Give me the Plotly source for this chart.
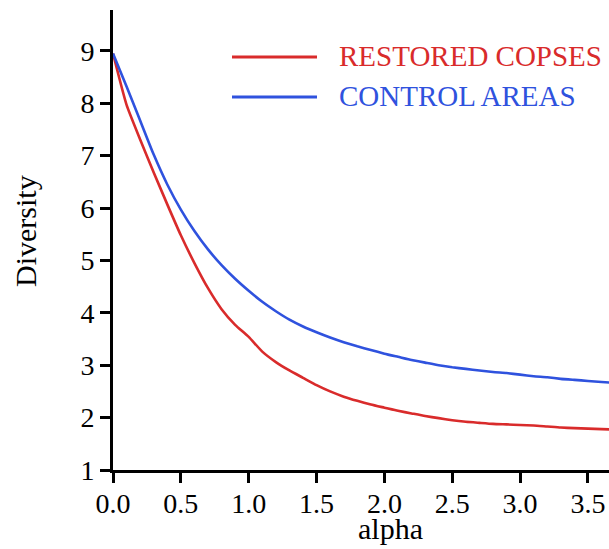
import plotly.graph_objects as go

alpha = [0.0, 0.1, 0.2, 0.3, 0.4, 0.5, 0.6, 0.7, 0.8, 0.9,
         1.0, 1.1, 1.2, 1.3, 1.4, 1.5, 1.6, 1.7, 1.8, 1.9,
         2.0, 2.1, 2.2, 2.3, 2.4, 2.5, 2.6, 2.7, 2.8, 2.9,
         3.0, 3.1, 3.2, 3.3, 3.4, 3.5, 3.6, 3.7]

restored_copses = [8.95, 7.97, 7.31, 6.68, 6.07, 5.48, 4.95, 4.47, 4.07, 3.77,
                   3.54, 3.26, 3.06, 2.90, 2.76, 2.62, 2.50, 2.40, 2.32, 2.25,
                   2.19, 2.13, 2.08, 2.03, 1.99, 1.95, 1.92, 1.90, 1.88, 1.87,
                   1.86, 1.85, 1.83, 1.81, 1.80, 1.79, 1.78, 1.77]

control_areas = [8.95, 8.32, 7.67, 7.02, 6.45, 5.97, 5.56, 5.21, 4.91, 4.65,
                 4.42, 4.21, 4.03, 3.87, 3.74, 3.63, 3.53, 3.44, 3.36, 3.29,
                 3.22, 3.16, 3.10, 3.05, 3.00, 2.96, 2.93, 2.90, 2.87, 2.85,
                 2.82, 2.79, 2.77, 2.74, 2.72, 2.70, 2.68, 2.66]

series_names = ["RESTORED COPSES", "CONTROL AREAS"]
series_colors = ["#d92b2b", "#2f52de"]

x_ticks = [0.0, 0.5, 1.0, 1.5, 2.0, 2.5, 3.0, 3.5]
y_ticks = [1, 2, 3, 4, 5, 6, 7, 8, 9]

FONT = "Liberation Serif, Times New Roman, serif"

fig = go.Figure()
for name, vals, col in zip(series_names, [restored_copses, control_areas], series_colors):
    fig.add_trace(go.Scatter(x=alpha, y=vals, mode="lines", name=name,
                             line=dict(color=col, width=2.6, shape="spline", smoothing=0.5),
                             showlegend=False))

# manual legend (pixel -> paper conversion)
L, T, W, H = 113, 10, 496, 460
def px(x):
    return (x - L) / W
def py(y):
    return (T + H - y) / H

shapes = []
annotations = []
legend_y = [57, 97]
for name, col, yy in zip(series_names, series_colors, legend_y):
    shapes.append(dict(type="line", xref="paper", yref="paper",
                       x0=px(232), x1=px(317), y0=py(yy), y1=py(yy),
                       line=dict(color=col, width=3)))
    annotations.append(dict(text=name, xref="paper", yref="paper",
                            x=px(337), y=py(yy - 1), xanchor="left", yanchor="middle",
                            showarrow=False, font=dict(family=FONT, size=29, color=col)))

annotations.append(dict(text="alpha", xref="paper", yref="paper",
                        x=px(390), y=py(510), xanchor="center", yanchor="top",
                        showarrow=False, font=dict(family=FONT, size=30, color="black")))
annotations.append(dict(text="Diversity", xref="paper", yref="paper",
                        x=px(25), y=py(231), xanchor="center", yanchor="middle",
                        textangle=-90, showarrow=False,
                        font=dict(family=FONT, size=30, color="black")))

axis_common = dict(showline=True, linewidth=3, linecolor="black",
                   ticks="outside", ticklen=10, tickwidth=3, tickcolor="black",
                   showgrid=False, zeroline=False, mirror=False,
                   tickfont=dict(family=FONT, size=28, color="black"))

fig.update_layout(
    width=609, height=549,
    margin=dict(l=L, r=0, t=T, b=549 - T - H, pad=0),
    paper_bgcolor="white", plot_bgcolor="white",
    xaxis=dict(range=[0, 3.655], tickvals=x_ticks, ticklabelstandoff=-4,
               ticktext=[f"{v:.1f}" for v in x_ticks], **axis_common),
    yaxis=dict(range=[1, 9.78], tickvals=y_ticks, **axis_common),
    shapes=shapes, annotations=annotations,
    showlegend=False,
)

fig.write_html("out.html")
